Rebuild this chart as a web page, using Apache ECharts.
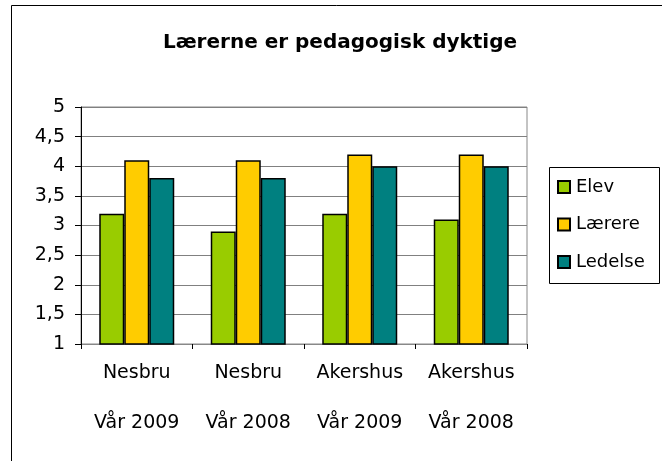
<!DOCTYPE html>
<html>
<head>
<meta charset="utf-8">
<script src="https://cdn.jsdelivr.net/npm/echarts@6/dist/echarts.min.js"></script>
<style>
  html, body { margin: 0; padding: 0; background: #fff; }
  #chart { width: 662px; height: 461px; }
</style>
</head>
<body>
<div id="chart"></div>
<script>
// Survey scores per school and term
const places = ['Nesbru', 'Nesbru', 'Akershus', 'Akershus'];
const terms = ['Vår 2009', 'Vår 2008', 'Vår 2009', 'Vår 2008'];
const elev = [3.2, 2.9, 3.2, 3.1];
const laerere = [4.1, 4.1, 4.2, 4.2];
const ledelse = [3.8, 3.8, 4.0, 4.0];
const seriesNames = ['Elev', 'Lærere', 'Ledelse'];
const yTickLabels = ['1', '1,5', '2', '2,5', '3', '3,5', '4', '4,5', '5'];

const categories = places.map((p, i) => p + '\n\n' + terms[i]);
const FONT = '"DejaVu Sans", "Liberation Sans", Arial, sans-serif';
const colors = ['#99CC00', '#FFCC00', '#008080'];
const values = [elev, laerere, ledelse];

const chart = echarts.init(document.getElementById('chart'), null, { renderer: 'canvas' });

chart.setOption({
  animation: false,
  backgroundColor: '#fff',
  title: {
    text: 'Lærerne er pedagogisk dyktige',
    left: 335,
    textAlign: 'center',
    top: 28,
    textStyle: { fontFamily: FONT, fontSize: 20, fontWeight: 'bold', color: '#000' }
  },
  legend: {
    orient: 'vertical',
    left: 557,
    top: 176,
    padding: 0,
    itemWidth: 12,
    itemHeight: 12,
    itemGap: 15.5,
    icon: 'rect',
    data: seriesNames,
    textStyle: { fontFamily: FONT, fontSize: 18, color: '#000', lineHeight: 22, padding: [0, 0, 0, 1] }
  },
  grid: {
    left: 81,
    top: 107,
    right: 135,
    bottom: 117,
    show: true,
    borderColor: '#888',
    borderWidth: 1
  },
  xAxis: {
    type: 'category',
    data: categories,
    axisLine: { lineStyle: { color: '#888', width: 1 } },
    axisTick: { show: true, length: 5, lineStyle: { color: '#000' } },
    axisLabel: {
      fontFamily: FONT, fontSize: 19, color: '#000',
      lineHeight: 25, margin: 17, interval: 0
    }
  },
  yAxis: {
    type: 'value',
    min: 1,
    max: 5,
    interval: 0.5,
    axisLine: { show: true, lineStyle: { color: '#000', width: 1 } },
    axisTick: { show: true, length: 6, lineStyle: { color: '#000' } },
    axisLabel: {
      fontFamily: FONT, fontSize: 19, color: '#000', margin: 16,
      formatter: v => yTickLabels[Math.round((v - 1) / 0.5)]
    },
    splitLine: { lineStyle: { color: '#808080', width: 1 } }
  },
  series: seriesNames.map((name, i) => ({
    name,
    type: 'bar',
    data: values[i],
    barWidth: 25,
    barGap: '0%',
    itemStyle: { color: colors[i], borderColor: '#000', borderWidth: 1.5 }
  })),
  graphic: [
    {
      type: 'rect',
      shape: { x: 549.5, y: 167.5, width: 110, height: 116 },
      style: { fill: 'none', stroke: '#000', lineWidth: 1 },
      z: -1
    },
    {
      type: 'polyline',
      shape: { points: [[11.5, 461], [11.5, 5.5], [662, 5.5]] },
      style: { fill: 'none', stroke: '#000', lineWidth: 1 }
    }
  ]
});
</script>
</body>
</html>
